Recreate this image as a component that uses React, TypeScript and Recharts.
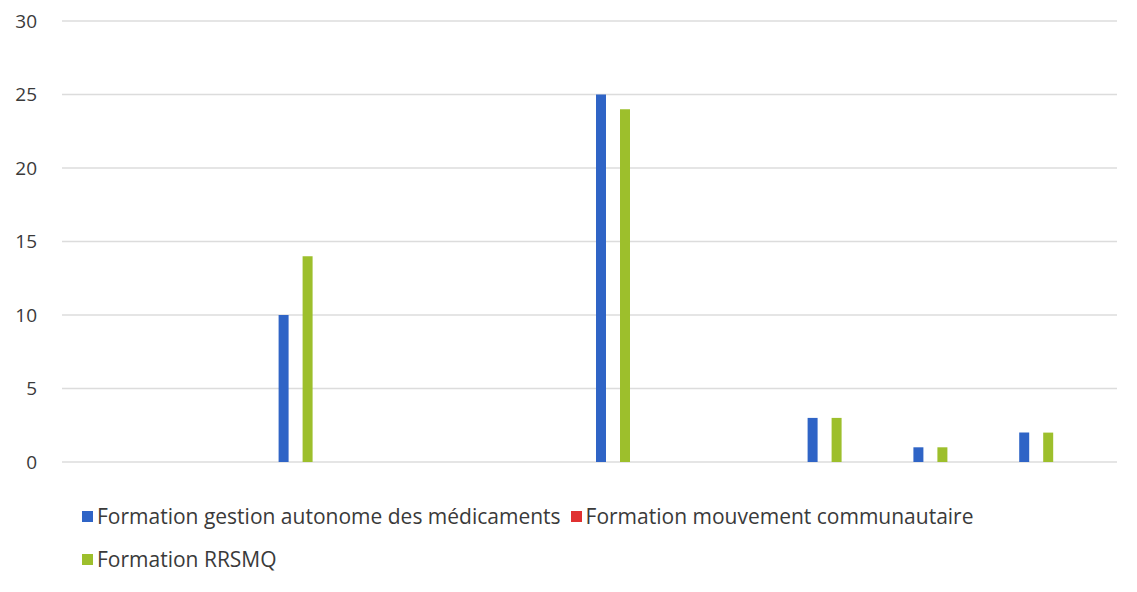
import { Bar, BarChart, CartesianGrid, XAxis, YAxis } from "recharts";

const categories = ["1", "2", "3", "4", "5", "6", "7", "8", "9", "10"];
const gestionAutonome = [0, 0, 10, 0, 0, 25, 0, 3, 1, 2];
const mouvementCommunautaire = [0, 0, 0, 0, 0, 0, 0, 0, 0, 0];
const rrsmq = [0, 0, 14, 0, 0, 24, 0, 3, 1, 2];
const yTicks = [0, 5, 10, 15, 20, 25, 30];

const series = [
  { key: "gestion", name: "Formation gestion autonome des médicaments", color: "#2f64c6" },
  { key: "mouvement", name: "Formation mouvement communautaire", color: "#e03131" },
  { key: "rrsmq", name: "Formation RRSMQ", color: "#9dbf2c" },
];

const data = categories.map((c, i) => ({
  name: c,
  gestion: gestionAutonome[i],
  mouvement: mouvementCommunautaire[i],
  rrsmq: rrsmq[i],
}));

const font = "'Open Sans', 'Noto Sans', sans-serif";

export default function App() {
  return (
    <div style={{ position: "absolute", left: 0, top: 0, width: 1137, height: 592, background: "#fff", fontFamily: font }}>
      <BarChart
        width={1137}
        height={592}
        data={data}
        margin={{ top: 21, right: 20, bottom: 130, left: 0 }}
        barSize={10}
        barGap={2}
      >
        <CartesianGrid vertical={false} stroke="#dcdcdc" strokeWidth={1.5} />
        <XAxis dataKey="name" hide padding={{ left: -31, right: 28 }} />
        <YAxis
          width={62}
          domain={[0, 30]}
          ticks={yTicks}
          axisLine={false}
          tickLine={false}
          tickMargin={19}
          tick={{ fill: "#3a3a3a", fontSize: 19, fontFamily: font }}
        />
        {series.map((s) => (
          <Bar key={s.key} dataKey={s.key} name={s.name} fill={s.color} isAnimationActive={false} />
        ))}
      </BarChart>
      <div
        style={{
          position: "absolute",
          left: 82,
          top: 501,
          width: 980,
          display: "flex",
          flexWrap: "wrap",
          columnGap: 10,
          rowGap: 13,
          fontSize: 21,
          color: "#3a3a3a",
          lineHeight: "30px",
        }}
      >
        {series.map((s) => (
          <div key={s.key} style={{ display: "flex", alignItems: "center", whiteSpace: "nowrap" }}>
            <span style={{ display: "inline-block", width: 11, height: 11, background: s.color, marginRight: 4 }} />
            {s.name}
          </div>
        ))}
      </div>
    </div>
  );
}
